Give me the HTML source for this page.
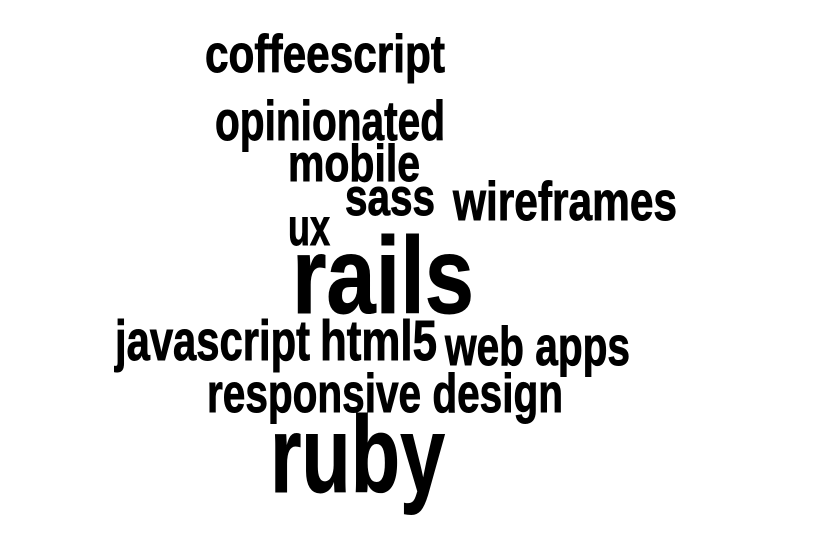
<!DOCTYPE html>
<html><head><meta charset="utf-8"><style>
html,body{margin:0;padding:0;background:#fff;}
svg{display:block;}
text{font-family:"Liberation Sans Narrow","Liberation Sans",sans-serif;font-weight:bold;fill:#000;stroke:#000;stroke-width:0.8;}
</style></head><body>
<svg id="cloud" width="827" height="538" viewBox="0 0 827 538"></svg>
<script>
const words = ["coffeescript","opinionated","mobile","sass","wireframes","ux","rails","javascript","html5","web apps","responsive design","ruby"];
const wx = [205,215,288,345,453,288,292,115,320,445,207,270];
const wy = [72,140,181,215,220,245,313,360,360,365,412,492];
const ww = [240,230,132,90,224,42,182,195,117,185,356,175];
const fs = [45,47,44,44,46,44,92,48,48,46,46,92];
const svg = document.getElementById('cloud');
words.forEach((w,i)=>{
  const t = document.createElementNS('http://www.w3.org/2000/svg','text');
  
  
  t.setAttribute('x', 0);
  t.setAttribute('y', 0);
  t.setAttribute('transform', 'translate(' + wx[i] + ',' + wy[i] + ') scale(1,1.18)');
  t.setAttribute('font-size', fs[i]);
  t.setAttribute('textLength', ww[i]);
  t.setAttribute('lengthAdjust', 'spacingAndGlyphs');
  t.textContent = w;
  svg.appendChild(t);
});
</script>
</body></html>
